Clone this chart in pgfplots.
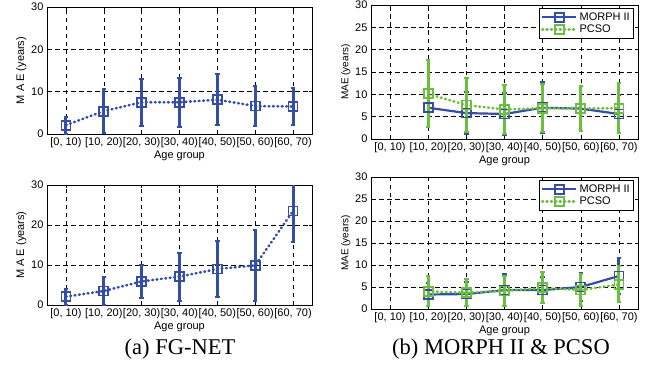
\documentclass[border=0pt]{standalone}
\usepackage{fontspec}
\setmainfont{Liberation Serif}
\setsansfont{Liberation Sans}
\usepackage{pgfplots}
\usepackage{pgfplotstable}
\pgfplotsset{compat=1.18}
\definecolor{mblue}{RGB}{52,78,168}
\definecolor{mgreen}{RGB}{108,190,62}

\pgfplotstableread{
x y e
0 2.1 2.0
1 5.4 5.2
2 7.5 5.6
3 7.5 5.8
4 8.1 6.0
5 6.6 4.8
6 6.5 4.3
}\fgtop
\pgfplotstableread{
x y e
0 2.1 2.0
1 3.5 3.4
2 5.9 4.1
3 7.1 6.0
4 9.0 7.0
5 9.9 8.8
6 23.5 7.7
}\fgbot
\pgfplotstableread{
x y e
1 7.0 4.3
2 5.8 4.7
3 5.6 4.8
4 7.0 5.7
5 6.8 5.0
6 5.6 4.3
}\morphtop
\pgfplotstableread{
x y e
1 10.1 7.5
2 7.6 6.1
3 6.6 5.5
4 6.9 5.4
5 6.8 5.0
6 6.9 5.6
}\pcsotop
\pgfplotstableread{
x y e
1 3.3 2.6
2 3.4 2.8
3 4.3 3.6
4 4.3 3.0
5 5.0 3.2
6 7.5 4.0
}\morphbot
\pgfplotstableread{
x y e
1 4.0 3.4
2 3.7 3.1
3 4.1 3.5
4 4.8 3.5
5 4.3 3.6
6 5.6 4.1
}\pcsobot

\pgfplotsset{
  base/.style={
    scale only axis, anchor=south west,
    xmin=-0.5, xmax=6.5, ymin=0, ymax=30,
    xtick={0,1,2,3,4,5,6},
    xticklabels={{[0, 10)},{[10, 20)},{[20, 30)},{[30, 40)},{[40, 50)},{[50, 60)},{[60, 70)}},
    grid=major,
    major grid style={black, line width=0.5pt, dash pattern=on 4.5pt off 3.5pt},
    axis line style={black, line width=0.8pt},
    tick style={black, line width=0.5pt}, major tick length=3pt, tick align=inside,
    /pgf/number format/assume math mode=true,
    ticklabel style={font=\sffamily\fontsize{11}{12}\selectfont},
    xticklabel style={inner xsep=0pt},
    label style={font=\sffamily\fontsize{11}{12}\selectfont},
    xlabel={Age group},
    xlabel style={yshift=4pt},
    legend cell align=left,
    legend image code/.code={\draw[mark repeat=2, mark phase=2, ##1] plot coordinates {(0pt,0pt) (17pt,0pt) (34pt,0pt)};},
    legend style={at={(0.985,0.975)}, anchor=north east, draw=black, line width=0.6pt,
      fill=white, font=\sffamily\fontsize{11}{12}\selectfont, inner sep=2pt, row sep=-1pt},
  },
  leftax/.style={base, ytick={0,10,20,30}, ylabel={M A E (years)}, ylabel style={yshift=-2pt}},
  rightax/.style={base, ytick={0,5,10,15,20,25,30}, ylabel={MAE (years)},
    ylabel style={font=\sffamily\fontsize{10}{11}\selectfont, yshift=-2pt}},
  bdot/.style={mblue, line width=2.6pt, line cap=round, dash pattern=on 0.8pt off 3.6pt,
    mark=square, mark size=4.5pt, mark options={solid, line width=1.8pt, fill=mblue!15}},
  bsol/.style={mblue, line width=2.2pt, solid,
    mark=square, mark size=4.5pt, mark options={solid, line width=1.8pt, fill=mblue!15}},
  gdot/.style={mgreen, line width=2.6pt, line cap=round, dash pattern=on 0.8pt off 3.6pt,
    mark=square, mark size=4.5pt, mark options={solid, line width=1.8pt, fill=mgreen!15}},
  ebb/.style={error bars/y dir=both, error bars/y explicit,
    error bars/error bar style={line width=3pt, solid, line cap=butt, mblue},
    error bars/error mark options={rotate=90, mark size=2.2pt, line width=2pt, mblue}},
  ebg/.style={error bars/y dir=both, error bars/y explicit,
    error bars/error bar style={line width=3pt, solid, line cap=butt, mgreen},
    error bars/error mark options={rotate=90, mark size=2.2pt, line width=2pt, mgreen}},
}

\begin{document}
\begin{tikzpicture}
\useasboundingbox (0,0) rectangle (655pt,365pt);

% (a) top
\begin{axis}[leftax, at={(47pt,231pt)}, width=265pt, height=127pt]
\addplot[bdot, ebb] table[x=x, y=y, y error=e]{\fgtop};
\end{axis}

% (a) bottom
\begin{axis}[leftax, at={(47pt,60pt)}, width=265pt, height=120pt]
\addplot[bdot, ebb] table[x=x, y=y, y error=e]{\fgbot};
\end{axis}

% (b) top
\begin{axis}[rightax, at={(371pt,226pt)}, width=267pt, height=134pt]
\addplot[bsol, ebb] table[x=x, y=y, y error=e]{\morphtop};
\addlegendentry{MORPH II}
\addplot[gdot, ebg] table[x=x, y=y, y error=e]{\pcsotop};
\addlegendentry{PCSO}
\end{axis}

% (b) bottom
\begin{axis}[rightax, at={(371pt,56pt)}, width=267pt, height=132pt]
\addplot[bsol, ebb] table[x=x, y=y, y error=e]{\morphbot};
\addlegendentry{MORPH II}
\addplot[gdot, ebg] table[x=x, y=y, y error=e]{\pcsobot};
\addlegendentry{PCSO}
\end{axis}

\node[anchor=base, font=\fontsize{22.5}{26}\selectfont, inner sep=0pt] at (180pt,11pt) {(a) FG-NET};
\node[anchor=base, font=\fontsize{22.5}{26}\selectfont, inner sep=0pt] at (501pt,11pt) {(b) MORPH II \& PCSO};
\end{tikzpicture}
\end{document}
